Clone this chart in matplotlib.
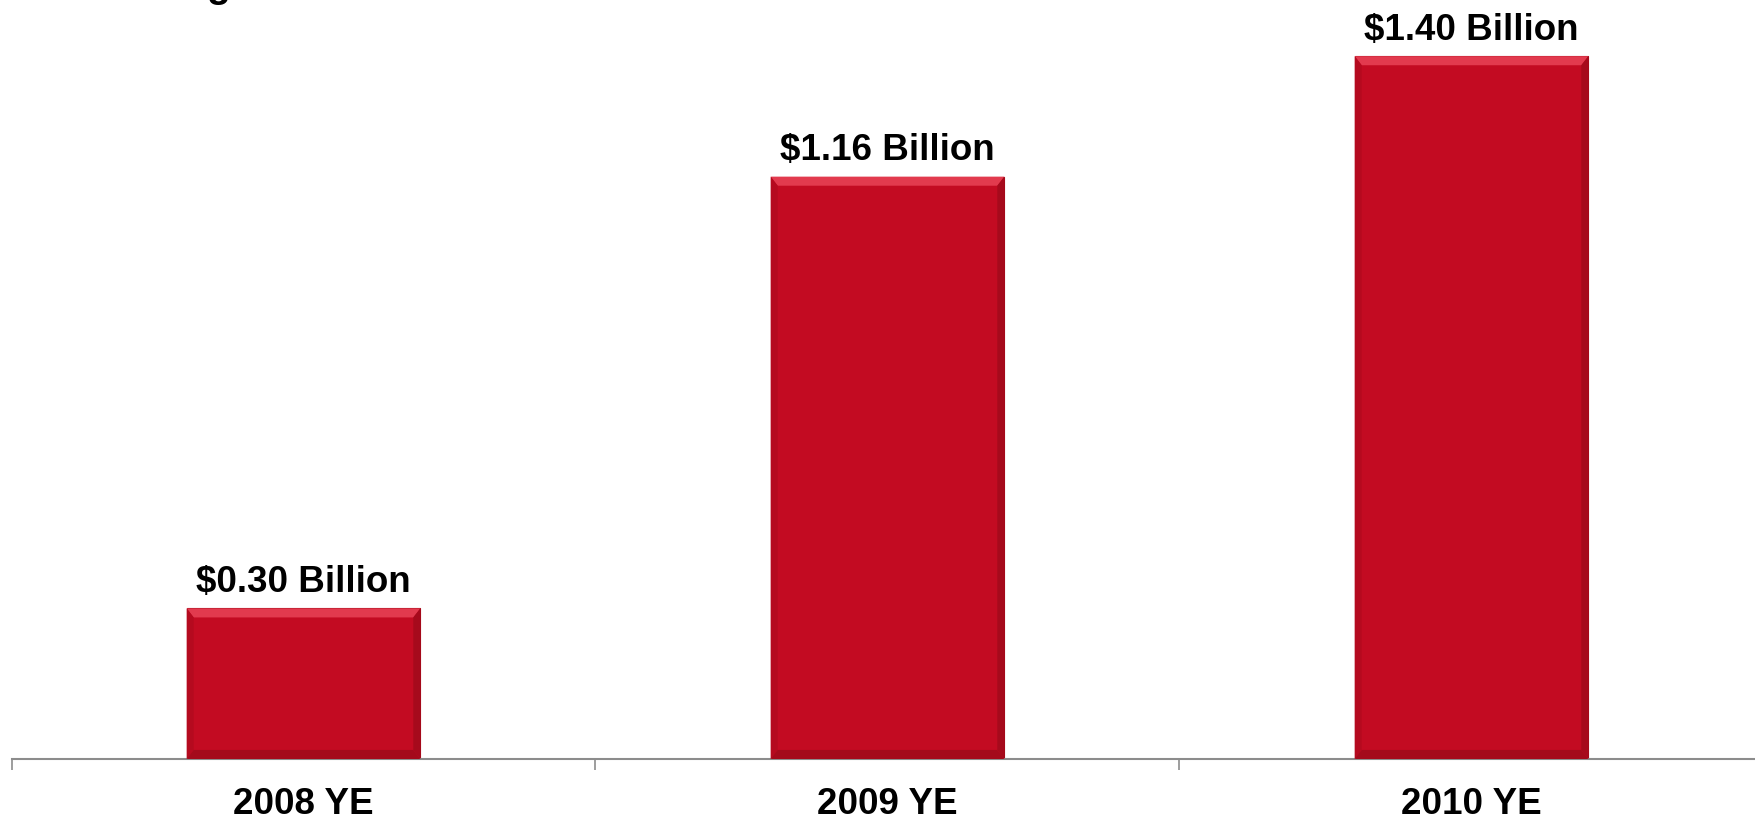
import matplotlib.pyplot as plt
from matplotlib.patches import Polygon

plt.rcParams['font.family'] = ['Liberation Sans', 'DejaVu Sans']

# --- DATA ---
categories = ['2008 YE', '2009 YE', '2010 YE']
values = [0.30, 1.16, 1.40]
value_labels = ['$0.30 Billion', '$1.16 Billion', '$1.40 Billion']

bar_color = '#C30B22'
W, H = 1756, 819

fig = plt.figure(figsize=(W / 100, H / 100), dpi=100)
# axes runs a little past the right edge, like the original slide
ax = fig.add_axes([11.5 / W, 60 / H, 1752 / W, 753 / H])

xs = [i + 0.5 for i in range(len(categories))]
bw = 0.4
bars = ax.bar(xs, values, width=bw, color=bar_color, edgecolor='#A50818',
              linewidth=0.8, zorder=2)

# bevel look: light strip at top, darker sides/bottom
for x, v in zip(xs, values):
    l, r = x - bw / 2, x + bw / 2
    dx = 0.012
    dy = 0.018
    top = Polygon([(l, v), (r, v), (r - dx, v - dy), (l + dx, v - dy)],
                  closed=True, facecolor='#E23A4E', edgecolor='none', zorder=3)
    right = Polygon([(r, v), (r, 0), (r - dx, dy), (r - dx, v - dy)],
                    closed=True, facecolor='#A60A1C', edgecolor='none', zorder=3)
    left = Polygon([(l, v), (l, 0), (l + dx, dy), (l + dx, v - dy)],
                   closed=True, facecolor='#B50A1F', edgecolor='none', zorder=3)
    bottom = Polygon([(l, 0), (r, 0), (r - dx, dy), (l + dx, dy)],
                     closed=True, facecolor='#A40A1B', edgecolor='none', zorder=3)
    for p in (top, right, left, bottom):
        ax.add_patch(p)

for x, v, lab in zip(xs, values, value_labels):
    ax.annotate(lab, (x, v), xytext=(0, 6), textcoords='offset points',
                ha='center', va='bottom', fontsize=26.5, fontweight='bold',
                color='black')

ax.set_xlim(0, 3)
ax.set_ylim(0, 1.5)

ax.set_xticks([0, 1, 2, 3])
ax.set_xticklabels([])
ax.set_xticks(xs, minor=True)
ax.set_xticklabels(categories, minor=True, fontsize=26.5, fontweight='bold')
ax.tick_params(axis='x', which='major', length=8, width=1.2, color='#8C8C8C',
               direction='out')
ax.tick_params(axis='x', which='minor', length=0, pad=20)
ax.set_yticks([])

for s in ('top', 'right', 'left'):
    ax.spines[s].set_visible(False)
ax.spines['bottom'].set_color('#8C8C8C')
ax.spines['bottom'].set_linewidth(1.5)

# descender of the cut-off slide title
fig.text(206 / W, 1 + 3 / H, 'g', fontsize=28, fontweight='bold',
         ha='left', va='baseline')

fig.savefig('out.png', dpi=100)
